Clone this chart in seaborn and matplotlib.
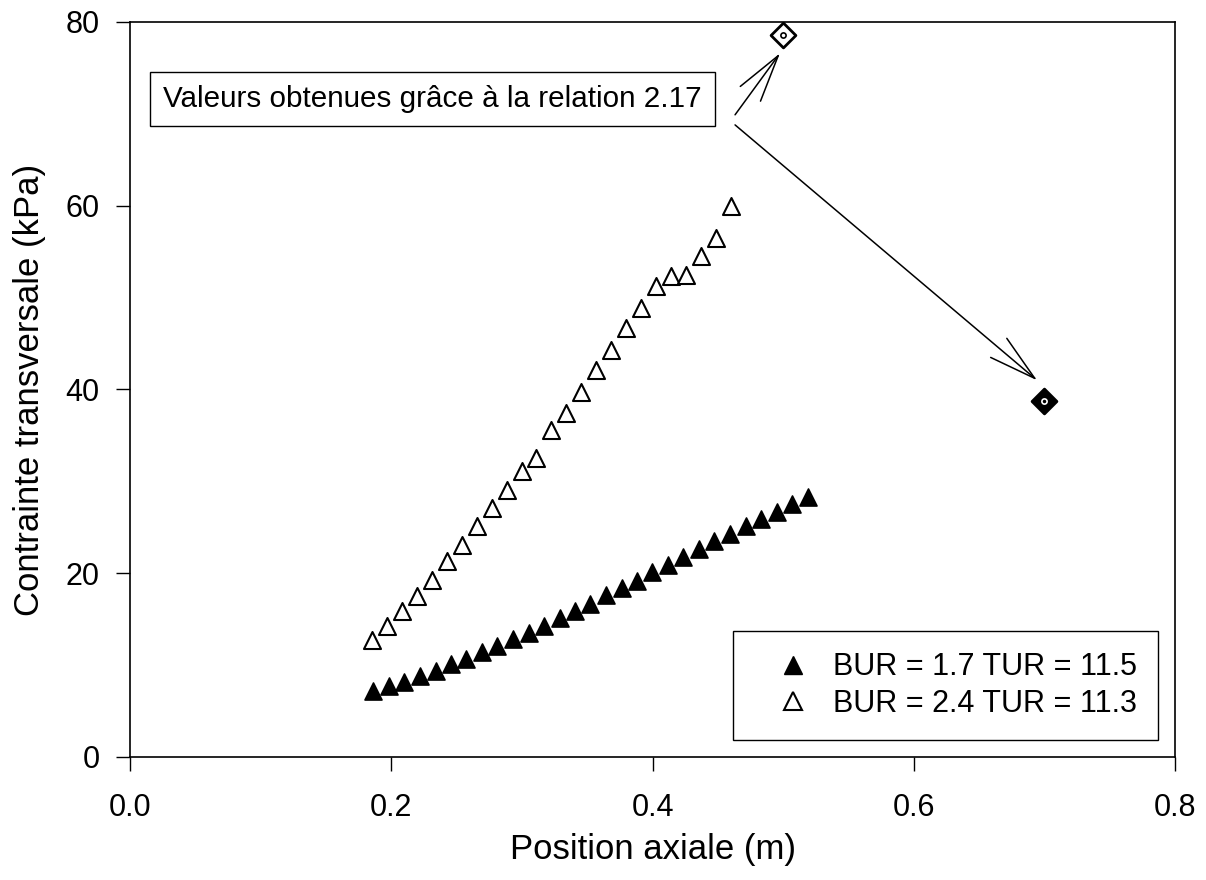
import numpy as np
import pandas as pd
import seaborn as sns
import matplotlib.pyplot as plt
from matplotlib.lines import Line2D

# BUR = 1.7 TUR = 11.5 (filled triangles)
x_bur17 = [0.1863, 0.1983, 0.2100, 0.2218, 0.2340, 0.2457, 0.2575, 0.2695, 0.2812, 0.2932,
           0.3052, 0.3169, 0.3288, 0.3407, 0.3525, 0.3644, 0.3764, 0.3879, 0.3998, 0.4116,
           0.4236, 0.4356, 0.4473, 0.4593, 0.4713, 0.4828, 0.4951, 0.5070, 0.5188]
y_bur17 = [7.2, 7.7, 8.2, 8.8, 9.4, 10.1, 10.7, 11.4, 12.1, 12.8,
           13.5, 14.3, 15.1, 15.9, 16.7, 17.6, 18.4, 19.2, 20.1, 20.9,
           21.8, 22.6, 23.5, 24.3, 25.1, 25.9, 26.7, 27.5, 28.3]

# BUR = 2.4 TUR = 11.3 (open triangles)
x_bur24 = [0.1855, 0.1967, 0.2082, 0.2195, 0.2310, 0.2424, 0.2539, 0.2654, 0.2769, 0.2884,
           0.2999, 0.3111, 0.3223, 0.3338, 0.3453, 0.3567, 0.3682, 0.3797, 0.3909, 0.4027,
           0.4139, 0.4254, 0.4369, 0.4484, 0.4601]
y_bur24 = [12.7, 14.3, 15.9, 17.5, 19.3, 21.3, 23.1, 25.1, 27.1, 29.1,
           31.1, 32.5, 35.6, 37.4, 39.7, 42.1, 44.3, 46.7, 48.9, 51.3,
           52.4, 52.5, 54.5, 56.5, 60.0]

# values from relation 2.17
x_rel_open, y_rel_open = [0.5], [78.6]
x_rel_fill, y_rel_fill = [0.7], [38.8]

label_17 = "BUR = 1.7 TUR = 11.5"
label_24 = "BUR = 2.4 TUR = 11.3"
note = "Valeurs obtenues grâce à la relation 2.17"

sns.set_theme(style="ticks")
plt.rcParams['font.family'] = ['Liberation Sans', 'DejaVu Sans']
plt.rcParams['text.color'] = 'black'
plt.rcParams['axes.labelcolor'] = 'black'

df17 = pd.DataFrame({"x": x_bur17, "y": y_bur17})
df24 = pd.DataFrame({"x": x_bur24, "y": y_bur24})

fig = plt.figure(figsize=(12.06, 8.8), dpi=100)
ax = fig.add_axes([0.1078, 0.1398, 0.8665, 0.8352])

tri_s = 150
sns.scatterplot(data=df17, x="x", y="y", marker="^", s=tri_s, color="black",
                edgecolor="black", linewidth=1.2, ax=ax, zorder=3)
sns.scatterplot(data=df24, x="x", y="y", marker="^", s=tri_s, color="white",
                edgecolor="black", linewidth=1.5, ax=ax, zorder=3)

# diamonds with small circle inside
ax.scatter(x_rel_open, y_rel_open, marker="D", s=160, facecolor="white",
           edgecolor="black", linewidth=2, zorder=4)
ax.scatter(x_rel_open, y_rel_open, marker="o", s=14, facecolor="white",
           edgecolor="black", linewidth=1.2, zorder=5)
ax.scatter(x_rel_fill, y_rel_fill, marker="D", s=160, facecolor="black",
           edgecolor="black", linewidth=2, zorder=4)
ax.scatter(x_rel_fill, y_rel_fill, marker="o", s=14, facecolor="black",
           edgecolor="white", linewidth=1.2, zorder=5)

# text box and arrows
ax.text(0.2315, 71.6, note, fontsize=21.3, ha="center", va="center",
        bbox=dict(boxstyle="square,pad=0.45", facecolor="white", edgecolor="black", linewidth=1))
arrow = dict(arrowstyle="->,head_length=3.4,head_width=0.9", mutation_scale=10,
             color="black", lw=1.1, shrinkA=0, shrinkB=0)
ax.annotate("", xy=(0.4976, 76.6), xytext=(0.4632, 69.9), arrowprops=arrow)
ax.annotate("", xy=(0.6944, 41.0), xytext=(0.4632, 68.8), arrowprops=arrow)

ax.set_xlim(0, 0.8)
ax.set_ylim(0, 80)
ax.set_xticks([0.0, 0.2, 0.4, 0.6, 0.8])
ax.set_xticklabels(["0.0", "0.2", "0.4", "0.6", "0.8"])
ax.set_yticks([0, 20, 40, 60, 80])
ax.tick_params(axis="both", direction="out", length=10, width=1, colors="black", labelsize=22)
ax.tick_params(axis="x", pad=16)
ax.tick_params(axis="y", pad=12)
for sp in ax.spines.values():
    sp.set_visible(True)
    sp.set_color("black")
    sp.set_linewidth(1.2)

ax.set_xlabel("Position axiale (m)", fontsize=25, labelpad=7)
ax.set_ylabel("Contrainte transversale (kPa)", fontsize=25, labelpad=14)

handles = [
    Line2D([], [], linestyle="none", marker="^", markersize=12.5, markerfacecolor="black",
           markeredgecolor="black"),
    Line2D([], [], linestyle="none", marker="^", markersize=12.5, markerfacecolor="white",
           markeredgecolor="black", markeredgewidth=1.5),
]
leg = ax.legend(handles, [label_17, label_24], loc="lower right", fontsize=22,
                frameon=True, fancybox=False, edgecolor="black", framealpha=1,
                borderpad=0.7, handlelength=2.5, handletextpad=0.05, labelspacing=0.2,
                bbox_to_anchor=(0.9837, 0.0231), borderaxespad=0)
leg.get_frame().set_linewidth(1)

fig.savefig("out.png", dpi=100)
